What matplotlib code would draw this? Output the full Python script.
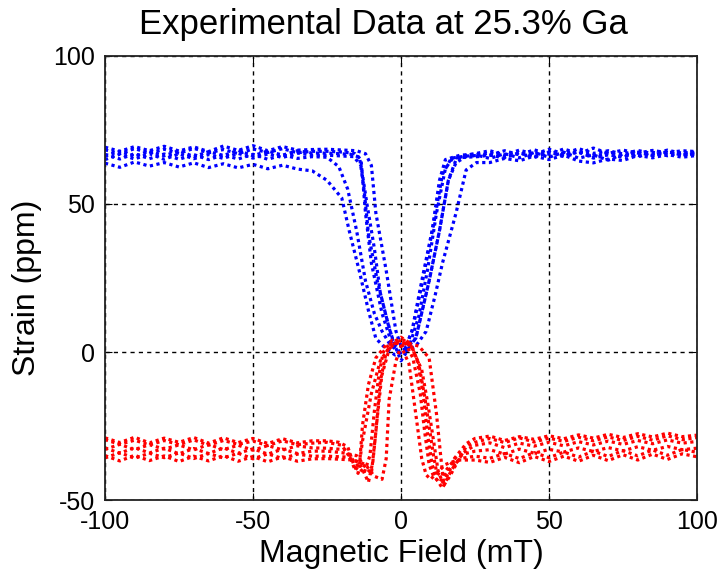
import numpy as np
import matplotlib
matplotlib.use("Agg")
import matplotlib.pyplot as plt

# campo (mT) nos patamares, comum a todas as curvas
left_x = [-100, -95, -90, -85, -80, -75, -70, -65, -60, -55, -50, -45, -40, -35, -30]
right_x = [30, 35, 40, 45, 50, 55, 60, 65, 70, 75, 80, 85, 90, 95, 100]

# curvas azuis (ppm)
b1_left = [63.8, 62.4, 64.2, 62.8, 64.0, 62.5, 63.9, 62.3, 63.6, 62.2, 63.4, 61.9, 63.1, 61.8, 61.2]
b2_left = [66.8, 65.2, 67.0, 65.3, 66.9, 65.1, 66.7, 65.0, 66.6, 65.2, 66.8, 65.1, 66.6, 65.4, 66.0]
b3_left = [68.3, 67.0, 68.7, 67.2, 68.5, 67.1, 68.8, 67.3, 68.4, 67.0, 68.6, 67.4, 68.7, 67.3, 67.8]
b4_left = [69.2, 67.8, 69.4, 68.0, 69.5, 67.9, 69.3, 67.7, 69.6, 68.1, 69.7, 68.0, 69.4, 68.2, 68.4]
b5_left = [66.2, 67.8, 66.1, 67.9, 66.3, 68.0, 66.0, 67.7, 66.4, 68.1, 66.3, 67.9, 66.5, 68.0, 67.2]
b6_left = [65.0, 66.8, 65.2, 67.0, 65.1, 66.9, 65.3, 66.7, 65.4, 67.1, 65.5, 66.9, 65.7, 67.2, 66.5]

b1_right = [64.0, 65.4, 64.6, 66.2, 65.0, 66.5, 64.5, 63.9, 65.2, 64.7, 66.4, 65.6, 66.7, 65.8, 66.4]
b2_right = [67.3, 65.8, 67.4, 65.9, 67.6, 66.0, 67.8, 66.2, 67.1, 66.1, 67.3, 66.4, 67.4, 66.5, 66.9]
b3_right = [66.5, 68.0, 66.6, 68.3, 66.8, 68.6, 67.0, 68.9, 67.1, 68.2, 67.2, 68.1, 67.3, 68.0, 67.7]
b4_right = [68.0, 66.6, 68.2, 66.8, 68.5, 66.9, 68.7, 67.1, 68.0, 66.9, 68.1, 67.0, 68.2, 67.1, 67.6]
b5_right = [65.4, 67.0, 65.6, 67.4, 65.8, 67.5, 65.5, 66.6, 64.8, 66.9, 65.9, 67.5, 66.3, 67.4, 67.1]
b6_right = [66.5, 65.6, 67.3, 65.7, 67.5, 66.4, 67.6, 65.5, 66.6, 65.8, 67.5, 66.4, 67.6, 66.6, 67.0]

b1_mid_x = [-25, -20, -17.5, -14, -11, -8.5, -5, -2, 2, 5, 8.5, 11.5, 14, 18.6, 22, 25.5]
b1_mid_y = [58, 52, 41, 27, 14, 4.6, 1, -1, 0.5, 2, 7, 19, 30, 47, 61.5, 64]
b2_mid_x = [-25, -21, -18, -15, -12, -9, -6.4, -4, -1, 2, 5, 9.5, 13, 16, 18.6, 22, 26]
b2_mid_y = [65.8, 62.6, 55, 41, 24, 13, 7, 3, 0, 1, 4.6, 24, 41, 58, 64, 66, 66.5]
b3_mid_x = [-25, -19, -15.5, -13.5, -12, -10, -6.4, -3, -1, 1, 3.7, 7, 10.5, 13, 15, 20, 25]
b3_mid_y = [67.8, 67.5, 67, 65, 47, 30, 13, 2.5, 0, 0.5, 7, 24, 41, 58, 65, 66.5, 66.8]
b4_mid_x = [-25, -15, -12, -10, -8.5, -5, -1.7, 0, 2, 5, 9.5, 13, 16, 18.6, 22, 26]
b4_mid_y = [68.5, 68, 67, 63, 47, 27.5, 7, 2, 1.5, 4.6, 24, 41, 58, 65, 66.5, 67.2]
b5_mid_x = [-25, -17, -14, -12.5, -11, -8, -5, -2.5, -0.5, 1.5, 4, 7.5, 11, 14, 17, 22, 26]
b5_mid_y = [67.2, 66.8, 65.8, 55, 40, 24, 12, 3, 0, 1, 8, 25, 43, 60, 65.5, 66.2, 66.4]
b6_mid_x = [-25, -16, -13.5, -11.5, -9, -7, -4, -2, 0, 2.5, 6, 9, 12, 15, 17.5, 22, 26]
b6_mid_y = [66.5, 66, 63, 50, 35, 20, 8, 2, -3, 1, 12, 28, 47, 62, 65.5, 65.8, 66]

# curvas vermelhas (ppm)
r1_left = [-29.6, -31.2, -29.8, -31.4, -29.9, -31.3, -29.7, -31.5, -29.9, -31.2, -30.1, -31.6, -30.0, -31.3, -30.8]
r2_left = [-32.4, -34.2, -32.3, -34.1, -32.5, -34.4, -32.6, -34.3, -32.4, -34.2, -32.7, -34.5, -32.8, -34.3, -33.5]
r3_left = [-35.0, -36.8, -34.9, -36.7, -35.1, -37.0, -35.2, -36.8, -35.0, -36.9, -35.3, -37.1, -35.4, -36.9, -36.1]
r4_left = [-32.9, -31.2, -33.0, -31.3, -32.8, -31.4, -33.1, -31.2, -33.0, -31.5, -33.2, -31.6, -33.1, -31.7, -32.4]
r5_left = [-35.8, -34.0, -35.9, -34.2, -35.7, -34.1, -36.0, -34.3, -35.8, -34.2, -36.1, -34.4, -36.0, -34.5, -35.2]
r6_left = [-29.0, -30.6, -28.8, -30.7, -29.1, -30.5, -28.9, -30.8, -29.0, -30.6, -29.2, -30.9, -29.3, -30.7, -30.0]

r1_right = [-29.2, -30.6, -29.0, -30.4, -29.1, -30.2, -28.8, -30.0, -28.7, -29.9, -28.5, -29.8, -28.3, -29.6, -28.9]
r2_right = [-33.0, -34.5, -32.8, -34.2, -32.9, -33.8, -32.4, -33.6, -32.3, -33.4, -32.0, -33.2, -31.9, -33.0, -32.5]
r3_right = [-37.3, -35.6, -37.4, -35.3, -37.0, -35.2, -36.9, -34.9, -36.7, -34.7, -36.5, -34.5, -36.3, -34.4, -35.4]
r4_right = [-30.7, -32.3, -30.8, -31.8, -30.5, -31.7, -30.3, -31.4, -30.1, -31.2, -29.9, -31.0, -29.7, -30.8, -30.2]
r5_right = [-35.9, -34.3, -36.0, -34.0, -35.7, -33.8, -35.5, -33.5, -35.3, -33.3, -35.1, -33.1, -34.9, -32.9, -33.9]
r6_right = [-28.4, -29.9, -28.6, -29.5, -28.3, -29.3, -28.0, -29.1, -27.8, -28.9, -27.6, -28.7, -27.4, -28.6, -28.1]

r1_mid_x = [-25, -20, -17, -15.5, -14, -13, -11, -8.5, -5, -1, 2, 6, 9.5, 12, 13.5, 14.5, 16.5, 18.6, 22, 25]
r1_mid_y = [-30.5, -31.5, -36, -40, -38, -24.7, -11, -2, 2.5, 3, 3, 2, -2, -21, -36, -45, -42, -38, -32, -30.5]
r2_mid_x = [-25, -20, -15, -12, -10, -8.5, -7, -5, -2, 1, 4, 6, 8, 9.5, 11, 12, 13.5, 16, 19, 25]
r2_mid_y = [-33.5, -34, -35, -39, -41, -27, -10, 0, 3, 4, 1, -4, -15, -25, -35, -40.5, -42, -39, -35, -33.5]
r3_mid_x = [-25, -16, -12, -9, -6.4, -5, -4, -1.7, 0, 2.7, 5, 7, 8.5, 10, 12, 15, 19, 25]
r3_mid_y = [-36, -36.5, -38, -42, -43, -36, -16, -3, 2, -4, -21, -36, -41.5, -43, -41, -38, -36.5, -36.5]
r4_mid_x = [-25, -19, -15, -12.5, -10.5, -9, -7.5, -6, -3, 0, 3, 5.5, 7.5, 9, 10.5, 12, 14, 17, 21, 25]
r4_mid_y = [-32.5, -33, -38, -41, -35, -20, -8, 0, 4, 2, 3, -3, -14, -28, -38, -43, -46, -40, -34, -31.5]
r5_mid_x = [-25, -18, -14, -11, -9.5, -8, -6.5, -4, -1, 1.5, 4, 6.5, 8, 9.5, 11, 13, 16, 20, 25]
r5_mid_y = [-35.2, -35.5, -37.5, -44, -37, -22, -8, 1, 4, 3, -2, -14, -27, -38, -42, -44, -40, -36, -35.2]
r6_mid_x = [-25, -21, -18, -16, -14.5, -13, -10, -7, -3, 0, 3, 7, 9, 11, 12.5, 14, 16, 18, 22, 25]
r6_mid_y = [-30, -30.5, -32, -38, -41, -30, -14, -3, 3, 5, 3, -6, -17, -30, -40, -44, -41, -36, -31, -29.2]

azuis = [(b1_left, b1_mid_x, b1_mid_y, b1_right),
         (b2_left, b2_mid_x, b2_mid_y, b2_right),
         (b3_left, b3_mid_x, b3_mid_y, b3_right),
         (b4_left, b4_mid_x, b4_mid_y, b4_right),
         (b5_left, b5_mid_x, b5_mid_y, b5_right),
         (b6_left, b6_mid_x, b6_mid_y, b6_right)]
vermelhas = [(r1_left, r1_mid_x, r1_mid_y, r1_right),
             (r2_left, r2_mid_x, r2_mid_y, r2_right),
             (r3_left, r3_mid_x, r3_mid_y, r3_right),
             (r4_left, r4_mid_x, r4_mid_y, r4_right),
             (r5_left, r5_mid_x, r5_mid_y, r5_right),
             (r6_left, r6_mid_x, r6_mid_y, r6_right)]

plt.rcParams['font.family'] = ['Liberation Sans', 'DejaVu Sans']
plt.rcParams['axes.unicode_minus'] = False

fig = plt.figure(figsize=(7.23, 5.75), dpi=100)
ax = fig.add_axes([105 / 723, 75 / 575, 592 / 723, 444 / 575])

for cor, curvas in (("#0000ff", azuis), ("#ff0000", vermelhas)):
    for esq, mx, my, dir_ in curvas:
        x = np.concatenate([left_x, mx, right_x])
        y = np.concatenate([esq, my, dir_])
        ax.plot(x, y, color=cor, linestyle=(0, (1, 1.1)), linewidth=2.3)

ax.set_xlim(-100, 100)
ax.set_ylim(-50, 100)
ax.set_xticks([-100, -50, 0, 50, 100])
ax.set_yticks([-50, 0, 50, 100])
ax.set_axisbelow(True)
ax.grid(True, color="k", linestyle=(0, (3, 3)), linewidth=1)
ax.tick_params(direction="in", length=5, top=True, right=True, labelsize=18, pad=7)
for s in ax.spines.values():
    s.set_linewidth(1.3)
    s.set_color("#222222")

ax.set_xlabel("Magnetic Field (mT)", fontsize=23, labelpad=4)
ax.set_ylabel("Strain (ppm)", fontsize=23)
ax.yaxis.set_label_coords(-0.107, 0.479)
ax.set_title("Experimental Data at 25.3% Ga", fontsize=25, pad=16, x=0.471)

fig.savefig("out.png", dpi=100)
